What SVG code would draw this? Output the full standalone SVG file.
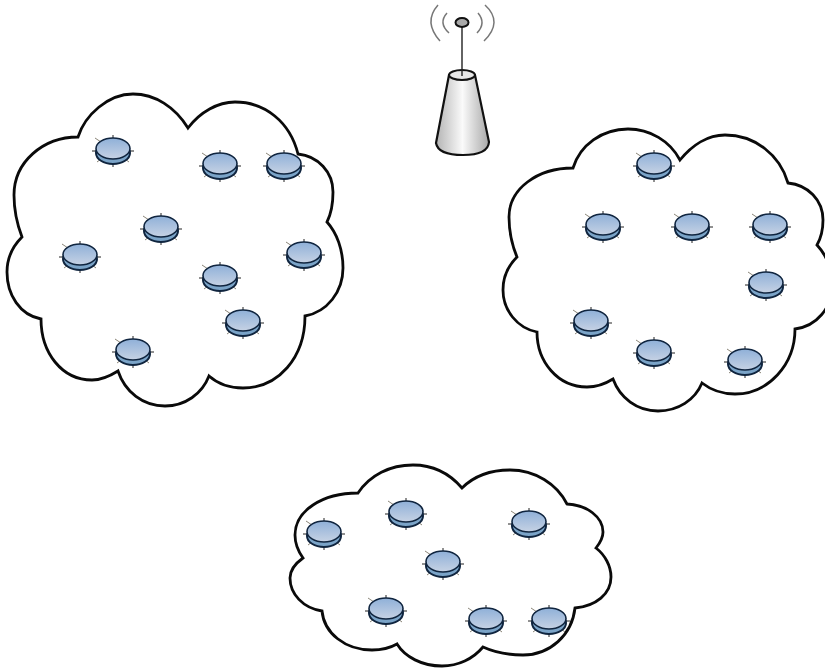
<svg xmlns="http://www.w3.org/2000/svg" width="825" height="670" viewBox="0 0 825 670">
<style>
.cloud{fill:#fff;stroke:#0a0a0a;stroke-width:2.8;stroke-linejoin:miter}
.wave{fill:none;stroke:#777;stroke-width:1.500}
.tick{stroke:#222;stroke-width:1;fill:none}
.tickd{stroke:#8a8578;stroke-width:1;fill:none}
</style>
<defs>
<linearGradient id="disc" x1="0" y1="0" x2="0" y2="1"><stop offset="0" stop-color="#8fb0d8"/><stop offset="1" stop-color="#c6d2e4"/></linearGradient>
<linearGradient id="tower" x1="0" y1="0" x2="1" y2="0"><stop offset="0" stop-color="#b4b4b4"/><stop offset="0.5" stop-color="#fafafa"/><stop offset="1" stop-color="#a8a8a8"/></linearGradient>
<g id="sensor">
<path class="tick" d="M0-16V-12M0 12V16M-21 0H-17M17 0H21"/>
<path class="tickd" d="M-18-13L-12-9M-16 11L-12 8M16 11L12 8"/>
<ellipse cx="0" cy="2" rx="17" ry="11" fill="#7ba4c8" stroke="#10253f" stroke-width="2"/>
<ellipse cx="0" cy="-2.500" rx="17" ry="10.500" fill="url(#disc)" stroke="#10253f" stroke-width="1.600"/>
</g>
</defs>
<rect width="825" height="670" fill="#fff"/>
<g id="clouds">
<path id="cloud-left" class="cloud" d="M78 137C85 115 108 94 133 94C155 94 175 107 188 128C200 112 218 102 235 102C265 102 290 122 298 154C318 156 333 172 333 192C333 204 331 214 327 222C337 233 343 250 343 268C343 292 327 312 305 316C305 358 278 388 243 388C230 388 218 384 209 376C202 394 185 406 165 406C143 406 125 392 118 371C110 376 101 380 92 380C62 380 41 353 41 319C20 315 7 295 7 272C7 258 13 246 22 237C17 224 14 210 14 195C14 162 43 137 78 137Z"/>
<path id="cloud-right" class="cloud" d="M573 168C580 145 602 129 628 129C650 129 670 141 680 160C692 145 708 135 725 135C755 135 780 155 788 183C808 185 823 200 823 220C823 230 821 238 817 245C827 256 832 270 832 285C832 308 817 326 795 329C795 365 768 394 735 394C722 394 711 390 702 383C695 400 678 411 658 411C637 411 620 398 613 379C605 384 596 387 587 387C558 387 537 362 537 332C517 328 503 310 503 290C503 276 509 265 517 257C512 245 509 231 509 217C509 189 537 168 573 168Z"/>
<path id="cloud-bottom" class="cloud" d="M358 493C370 475 390 465 413 465C433 465 450 474 462 488C474 476 491 470 510 470C535 470 557 484 567 504C587 505 603 517 603 532C603 538 600 543 596 548C605 555 611 566 611 577C611 594 596 606 575 608C572 635 550 655 523 655C508 655 494 652 483 647C473 659 458 666 442 666C422 666 405 657 397 644C390 648 381 650 372 650C345 650 324 633 322 611C303 608 290 594 290 578C290 570 296 563 303 558C298 551 295 543 295 535C295 511 322 493 358 493Z"/>
</g>
<g id="connectors"></g>
<g id="base-station">
<path class="wave" d="M447 13Q438 23 449 33M438 5Q423 22 440 41M478 13Q486.500 23 477 33M485 5Q503.500 22 484 41"/>
<path d="M449 75L436 143Q438 155 463 155Q488 155 489 142L475 75Z" fill="url(#tower)" stroke="#111" stroke-width="2.200"/>
<ellipse cx="462" cy="75" rx="13" ry="5" fill="#e6e6e6" stroke="#111" stroke-width="2"/>
<path d="M462 27V76" stroke="#222" stroke-width="1.400"/>
<ellipse cx="462" cy="22.500" rx="6.500" ry="4.500" fill="#aaa" stroke="#111" stroke-width="2"/>
</g>
<g id="n1"><use href="#sensor" x="113" y="151"/></g>
<g id="n2"><use href="#sensor" x="220" y="166"/></g>
<g id="n3"><use href="#sensor" x="284" y="166"/></g>
<g id="n4"><use href="#sensor" x="161" y="229"/></g>
<g id="n5"><use href="#sensor" x="80" y="257"/></g>
<g id="n6"><use href="#sensor" x="304" y="255"/></g>
<g id="n7"><use href="#sensor" x="220" y="278"/></g>
<g id="n8"><use href="#sensor" x="243" y="323"/></g>
<g id="n9"><use href="#sensor" x="133" y="352"/></g>
<g id="n10"><use href="#sensor" x="654" y="166"/></g>
<g id="n11"><use href="#sensor" x="603" y="227"/></g>
<g id="n12"><use href="#sensor" x="692" y="227"/></g>
<g id="n13"><use href="#sensor" x="770" y="227"/></g>
<g id="n14"><use href="#sensor" x="766" y="285"/></g>
<g id="n15"><use href="#sensor" x="591" y="323"/></g>
<g id="n16"><use href="#sensor" x="654" y="353"/></g>
<g id="n17"><use href="#sensor" x="745" y="362"/></g>
<g id="n18"><use href="#sensor" x="324" y="534"/></g>
<g id="n19"><use href="#sensor" x="406" y="514"/></g>
<g id="n20"><use href="#sensor" x="529" y="524"/></g>
<g id="n21"><use href="#sensor" x="443" y="564"/></g>
<g id="n22"><use href="#sensor" x="386" y="611"/></g>
<g id="n23"><use href="#sensor" x="486" y="621"/></g>
<g id="n24"><use href="#sensor" x="549" y="621"/></g>
</svg>
